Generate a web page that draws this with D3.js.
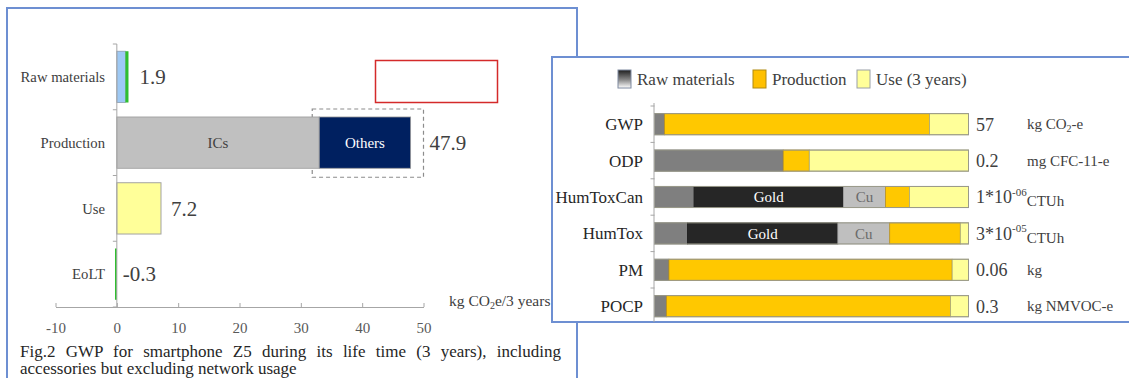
<!DOCTYPE html>
<html>
<head>
<meta charset="utf-8">
<script src="https://cdn.jsdelivr.net/npm/d3@7"></script>
</head>
<body style="margin:0;padding:0;background:#fff">
<svg id="chart" width="1129" height="378" style="display:block"></svg>
<script>
// ---- Left chart: GWP per life-cycle stage (kg CO2e / 3 years) ----
const stages = ["Raw materials", "Production", "Use", "EoLT"];
const stageTotals = [1.9, 47.9, 7.2, -0.3];
const rawParts = [1.4, 0.5];          // light blue, green
const productionParts = [33.0, 14.9]; // ICs, Others
const productionPartNames = ["ICs", "Others"];
const gwpTicks = [-10, 0, 10, 20, 30, 40, 50];

// ---- Right chart: share of each impact category per stage (%) ----
const impacts = ["GWP", "ODP", "HumToxCan", "HumTox", "PM", "POCP"];
const segNames = ["Raw materials", "Gold", "Cu", "Production", "Use (3 years)"];
const rawOther = [3.2, 41.0, 12.6, 10.5, 4.6, 3.8];
const gold     = [0, 0, 47.6, 47.9, 0, 0];
const copper   = [0, 0, 13.4, 16.5, 0, 0];
const production = [84.4, 8.3, 7.6, 22.5, 90.2, 90.5];
const use      = [12.4, 50.7, 18.8, 2.6, 5.2, 5.7];
const impactValues = ["57", "0.2", "1*10", "3*10", "0.06", "0.3"];
const impactExp = [null, null, "-06", "-05", null, null];
const impactUnits = ["kg CO|2|-e", "mg CFC-11-e", "CTUh", "CTUh", "kg", "kg NMVOC-e"];

const FONT = '"Liberation Serif"';
const svg = d3.select("#chart");
const frameBlue = "#6d8fd2";

// every text element gets the serif face
function txt(sel) { return sel.append("text").style("font-family", FONT); }

// Outer frame of the left figure
svg.append("rect")
  .attr("x", 7).attr("y", 8).attr("width", 570).attr("height", 420)
  .attr("fill", "#fff").attr("stroke", frameBlue).attr("stroke-width", 2);

// Left chart scales
const x1 = d3.scaleLinear().domain([-10, 50]).range([55.5, 423.5]);
const y1 = d3.scaleBand().domain(stages).range([44, 307]).paddingInner(0.22).paddingOuter(0.11);

const left = svg.append("g");

// Annotation box
left.append("rect")
  .attr("x", 375.5).attr("y", 60.5).attr("width", 122).attr("height", 42)
  .attr("fill", "none").attr("stroke", "#d42a2a").attr("stroke-width", 1.5);

// Dashed frame around the "Others" part of production
left.append("rect")
  .attr("x", x1(productionParts[0]) - 7).attr("y", y1("Production") - 8)
  .attr("width", x1(50) - x1(productionParts[0]) + 7).attr("height", y1.bandwidth() + 17)
  .attr("fill", "none").attr("stroke", "#8c8c8c").attr("stroke-width", 1.2)
  .attr("stroke-dasharray", "4,3");

// Raw materials stacked bar
const rawColors = ["#9ec9f4", "#2fbf2f"];
let acc = 0;
rawParts.forEach((v, i) => {
  left.append("rect")
    .attr("x", x1(acc)).attr("y", y1("Raw materials"))
    .attr("width", x1(acc + v) - x1(acc)).attr("height", y1.bandwidth())
    .attr("fill", rawColors[i]).attr("stroke", i === 0 ? "#8a9bb0" : "none").attr("stroke-width", 0.8);
  acc += v;
});

// Production stacked bar
const prodColors = ["#c0c0c0", "#002060"];
const prodText = ["#404040", "#ffffff"];
acc = 0;
productionParts.forEach((v, i) => {
  left.append("rect")
    .attr("x", x1(acc)).attr("y", y1("Production"))
    .attr("width", x1(acc + v) - x1(acc)).attr("height", y1.bandwidth())
    .attr("fill", prodColors[i]).attr("stroke", "#9a9a9a").attr("stroke-width", 0.8);
  txt(left)
    .attr("x", (x1(acc) + x1(acc + v)) / 2).attr("y", y1("Production") + y1.bandwidth() / 2)
    .attr("dy", "0.35em").attr("text-anchor", "middle")
    .attr("font-size", 15).attr("fill", prodText[i])
    .text(productionPartNames[i]);
  acc += v;
});

// Use bar
left.append("rect")
  .attr("x", x1(0)).attr("y", y1("Use"))
  .attr("width", x1(stageTotals[2]) - x1(0)).attr("height", y1.bandwidth())
  .attr("fill", "#ffff99").attr("stroke", "#a3a3a3").attr("stroke-width", 1);

// End-of-life bar (negative)
left.append("rect")
  .attr("x", x1(stageTotals[3])).attr("y", y1("EoLT"))
  .attr("width", x1(0) - x1(stageTotals[3])).attr("height", y1.bandwidth())
  .attr("fill", "#2fbf2f");

// Value labels
const valueX = [x1(stageTotals[0]) + 11, x1(stageTotals[1]) + 19, x1(stageTotals[2]) + 10, x1(0) + 6];
stages.forEach((s, i) => {
  txt(left)
    .attr("x", valueX[i]).attr("y", y1(s) + y1.bandwidth() / 2)
    .attr("dy", "0.35em").attr("font-size", 21).attr("fill", "#404040")
    .text(stageTotals[i].toFixed(1));
});

// Y axis: line with ticks at band boundaries, labels at band centres
const yAxisG = left.append("g");
yAxisG.append("line")
  .attr("x1", x1(0)).attr("x2", x1(0)).attr("y1", y1.range()[0]).attr("y2", y1.range()[1])
  .attr("stroke", "#a6a6a6").attr("stroke-width", 1);
d3.range(stages.length + 1).forEach(i => {
  const yy = y1.range()[0] + i * y1.step();
  yAxisG.append("line")
    .attr("x1", x1(0) - 4).attr("x2", x1(0)).attr("y1", yy).attr("y2", yy)
    .attr("stroke", "#a6a6a6");
});
stages.forEach(s => {
  txt(yAxisG)
    .attr("x", 105).attr("y", y1(s) + y1.bandwidth() / 2)
    .attr("dy", "0.35em").attr("text-anchor", "end")
    .attr("font-size", 14.7).attr("fill", "#404040")
    .text(s);
});

// X axis
const xAxisG = left.append("g").attr("transform", "translate(0,307)")
  .call(d3.axisBottom(x1).tickValues(gwpTicks).tickSizeInner(-4).tickSizeOuter(0).tickPadding(15)
        .tickFormat(d => d));
xAxisG.attr("font-family", null);
xAxisG.select(".domain").attr("stroke", "#a6a6a6");
xAxisG.selectAll(".tick line").attr("stroke", "#a6a6a6");
xAxisG.selectAll(".tick text").attr("font-size", 15).attr("fill", "#595959")
  .style("font-family", FONT);

// X axis title
const xt = txt(left).attr("x", 449).attr("y", 306).attr("font-size", 15.5).attr("fill", "#404040");
xt.append("tspan").text("kg CO");
xt.append("tspan").attr("font-size", 10).attr("dy", 3).text("2");
xt.append("tspan").attr("dy", -3).text("e/3 years");

// Caption: first line justified by widening the word gaps
const cap1 = txt(left)
  .attr("x", 20).attr("y", 357).attr("font-size", 17).attr("fill", "#262626")
  .text("Fig.2 GWP for smartphone Z5 during its life time (3 years), including");
const natural = cap1.node().getComputedTextLength();
const gaps = (cap1.text().match(/ /g) || []).length;
cap1.style("word-spacing", Math.max(0, (541 - natural) / gaps) + "px");
txt(left)
  .attr("x", 20).attr("y", 374).attr("font-size", 17).attr("fill", "#262626")
  .text("accessories but excluding network usage");

// ---- Right panel ----
svg.append("rect")
  .attr("x", 552).attr("y", 57).attr("width", 620).attr("height", 265)
  .attr("fill", "#fff").attr("stroke", frameBlue).attr("stroke-width", 2);

const right = svg.append("g");
const x2 = d3.scaleLinear().domain([0, 100]).range([654.5, 968.5]);
const y2 = d3.scaleBand().domain(impacts).range([106, 324.4]).paddingInner(0.42).paddingOuter(0.21);

const segData = impacts.map((k, i) => ({
  key: k,
  "Raw materials": rawOther[i], "Gold": gold[i], "Cu": copper[i],
  "Production": production[i], "Use (3 years)": use[i]
}));
const stacked = d3.stack().keys(segNames)(segData);
const segFill = {"Raw materials": "#7f7f7f", "Gold": "#262626", "Cu": "#bfbfbf",
                 "Production": "#ffc800", "Use (3 years)": "#ffff99"};
const segStroke = {"Raw materials": "#6a6a6a", "Gold": "#1a1a1a", "Cu": "#a8a8a8",
                   "Production": "#b89020", "Use (3 years)": "#a8a87a"};

stacked.forEach(layer => {
  right.append("g").selectAll("rect")
    .data(layer.filter(d => d[1] - d[0] > 0))
    .join("rect")
    .attr("x", d => x2(d[0])).attr("y", d => y2(d.data.key))
    .attr("width", d => x2(d[1]) - x2(d[0])).attr("height", y2.bandwidth())
    .attr("fill", segFill[layer.key]).attr("stroke", segStroke[layer.key]).attr("stroke-width", 0.8);
  if (layer.key === "Gold" || layer.key === "Cu") {
    right.append("g").selectAll("text")
      .data(layer.filter(d => d[1] - d[0] > 0))
      .join("text")
      .style("font-family", FONT)
      .attr("x", d => (x2(d[0]) + x2(d[1])) / 2)
      .attr("y", d => y2(d.data.key) + y2.bandwidth() / 2)
      .attr("dy", "0.35em").attr("text-anchor", "middle").attr("font-size", 15)
      .attr("fill", layer.key === "Gold" ? "#ffffff" : "#6a6a6a")
      .text(layer.key);
  }
});

// Outline around each full bar
impacts.forEach(k => {
  right.append("rect")
    .attr("x", x2(0)).attr("y", y2(k)).attr("width", x2(100) - x2(0)).attr("height", y2.bandwidth())
    .attr("fill", "none").attr("stroke", "#9a9a8a").attr("stroke-width", 1);
});

// Y axis
right.append("line")
  .attr("x1", x2(0) - 0.5).attr("x2", x2(0) - 0.5).attr("y1", y2.range()[0] - 3).attr("y2", 322)
  .attr("stroke", "#a6a6a6");
d3.range(impacts.length).forEach(i => {
  const yy = y2.range()[0] + i * y2.step();
  right.append("line").attr("x1", x2(0) - 4).attr("x2", x2(0)).attr("y1", yy).attr("y2", yy)
    .attr("stroke", "#a6a6a6");
});
impacts.forEach(k => {
  txt(right)
    .attr("x", 643).attr("y", y2(k) + y2.bandwidth() / 2).attr("dy", "0.35em")
    .attr("text-anchor", "end").attr("font-size", 17).attr("fill", "#262626").text(k);
});

// Values and units
impacts.forEach((k, i) => {
  const cy = y2(k) + y2.bandwidth() / 2;
  const t = txt(right).attr("x", 976).attr("y", cy).attr("dy", "0.35em")
    .attr("font-size", 18).attr("fill", "#404040");
  t.append("tspan").text(impactValues[i]);
  if (impactExp[i]) {
    t.append("tspan").attr("font-size", 11).attr("dy", "-0.7em").text(impactExp[i]);
    t.append("tspan").attr("font-size", 15).attr("dy", "0.7em").text(impactUnits[i]);
  } else {
    const parts = impactUnits[i].split("|");
    const u = txt(right).attr("x", 1027).attr("y", cy).attr("dy", "0.35em")
      .attr("font-size", 15).attr("fill", "#404040");
    u.append("tspan").text(parts[0]);
    if (parts.length > 1) {
      u.append("tspan").attr("font-size", 10).attr("dy", 3).text(parts[1]);
      u.append("tspan").attr("dy", -3).text(parts[2]);
    }
  }
});

// Legend
const defs = svg.append("defs");
const grad = defs.append("linearGradient").attr("id", "rawGrad").attr("x1", 0).attr("y1", 0).attr("x2", 0).attr("y2", 1);
grad.append("stop").attr("offset", "0%").attr("stop-color", "#1e1e1e");
grad.append("stop").attr("offset", "55%").attr("stop-color", "#8a8a8a");
grad.append("stop").attr("offset", "100%").attr("stop-color", "#ffffff");

const legendItems = [
  {label: "Raw materials", fill: "url(#rawGrad)", stroke: "#7f8aa0", x: 618},
  {label: "Production", fill: "#ffc000", stroke: "#b08a10", x: 753},
  {label: "Use (3 years)", fill: "#ffff99", stroke: "#9aa0a8", x: 857}
];
const lg = right.append("g");
legendItems.forEach(d => {
  lg.append("rect").attr("x", d.x).attr("y", 70).attr("width", 13).attr("height", 18)
    .attr("fill", d.fill).attr("stroke", d.stroke).attr("stroke-width", 1);
  txt(lg).attr("x", d.x + 19).attr("y", 79).attr("dy", "0.35em")
    .attr("font-size", 17).attr("fill", "#404040").text(d.label);
});
</script>
</body>
</html>
